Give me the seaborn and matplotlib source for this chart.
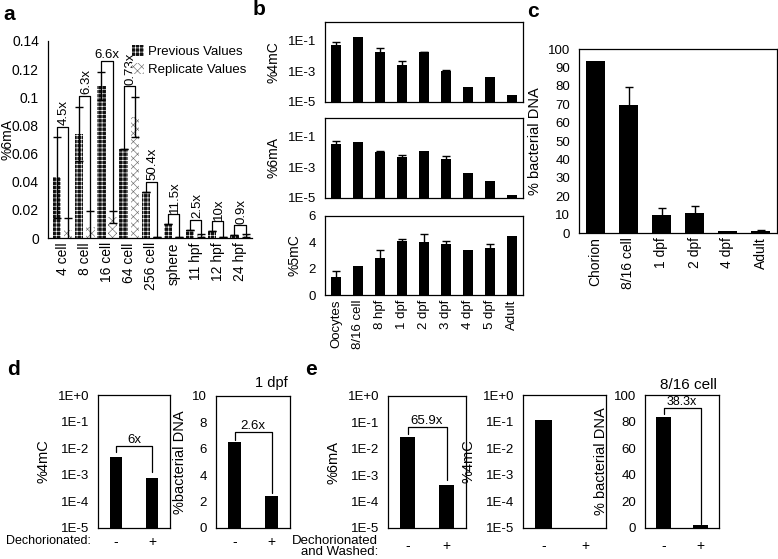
import numpy as np, pandas as pd
import matplotlib; matplotlib.use("Agg")
import matplotlib.pyplot as plt
import seaborn as sns
from matplotlib.ticker import FuncFormatter, LogLocator, MultipleLocator, NullFormatter, FixedLocator
from matplotlib.patches import Patch

# ---- panel a : %6mA previous vs replicate
A_STAGES   = ["4 cell","8 cell","16 cell","64 cell","256 cell","sphere","11 hpf","12 hpf","24 hpf"]
A_PREV     = [0.043,0.074,0.108,0.063,0.033,0.010,0.006,0.005,0.002]
A_PREV_ERR = [0.029,0.019,0.010,0.0,0.0,0.0,0.0,0.0,0.0]
A_REP      = [0.006,0.008,0.015,0.086,0.0005,0.001,0.002,0.0005,0.002]
A_REP_ERR  = [0.008,0.011,0.004,0.014,0.0,0.0,0.001,0.0,0.001]
A_FOLD     = ["4.5x","6.3x","6.6x","0.73x","50.4x","11.5x","2.5x","10x","0.9x"]
A_BRACKET  = [0.079,0.101,0.126,0.108,0.040,0.017,0.013,0.012,0.009]

# ---- panel b : modifications over development
B_STAGES  = ["Oocytes","8/16 cell","8 hpf","1 dpf","2 dpf","3 dpf","4 dpf","5 dpf","Adult"]
B_4MC     = [0.052,0.17,0.018,0.0026,0.017,0.0010,1.0e-4,4.2e-4,3.0e-5]
B_4MC_ERR = [0.022,0.0,0.011,0.0016,0.001,0.00026,0.0,0.0,0.0]
B_6MA     = [0.032,0.040,0.0098,0.0047,0.011,0.0032,4.2e-4,1.2e-4,1.6e-5]
B_6MA_ERR = [0.016,0.0,0.001,0.0016,0.0,0.0022,0.0,0.0,0.0]
B_5MC     = [1.39,2.2,2.78,4.09,4.0,3.84,3.38,3.54,4.49]
B_5MC_ERR = [0.43,0.0,0.62,0.18,0.6,0.23,0.0,0.35,0.0]

# ---- panel c : % bacterial DNA
C_STAGES = ["Chorion","8/16 cell","1 dpf","2 dpf","4 dpf","Adult"]
C_VALS   = [93.3,69.3,10.0,10.6,1.3,1.0]
C_ERR    = [0.0,10.3,3.6,4.1,0.0,0.4]

# ---- panels d / e : dechorionation
COND     = ["-","+"]
D_4MC    = [4.6e-3,7.8e-4]
D_BACT   = [6.5,2.45]
E_6MA    = [0.029,4.3e-4]
E_4MC    = [0.115,0.0]
E_BACT   = [83.7,2.2]

W, H = 778, 559
sns.set_theme(style="white")
plt.rcParams.update({"font.family":["Liberation Sans","DejaVu Sans"],"font.size":9,
                     "axes.linewidth":0.9,"axes.edgecolor":"black","hatch.linewidth":0.45,
                     "xtick.color":"black","ytick.color":"black","text.color":"black",
                     "axes.labelcolor":"black"})
fig = plt.figure(figsize=(W/100,H/100), dpi=100)

def ax_px(l,t,r,b):
    return fig.add_axes([l/W, 1-b/H, (r-l)/W, (b-t)/H])

def logfmt(v,_):
    return f"1E{int(round(np.log10(v))):+d}"

def style(ax, log=False, box=True, ysize=9.5):
    ax.tick_params(axis="x", length=0, labelsize=10, pad=3)
    ax.tick_params(axis="y", which="major", length=3, width=0.8, direction="out", labelsize=ysize)
    ax.tick_params(axis="y", which="minor", length=2, width=0.5, direction="in")
    for s in ["top","right"]: ax.spines[s].set_visible(box)
    ax.set_xlabel("")
    if log:
        ax.set_yscale("log")
        ax.yaxis.set_major_formatter(FuncFormatter(logfmt))
        ax.yaxis.set_minor_locator(LogLocator(subs=np.arange(2,10)))
        ax.yaxis.set_minor_formatter(NullFormatter())

def bars(ax, cats, vals, err=None, width=0.4):
    sns.barplot(x=cats, y=vals, order=cats, color="black", saturation=1, width=width,
                errorbar=None, ax=ax, edgecolor="black", linewidth=0)
    if err is not None:
        xs = np.arange(len(cats))
        e = np.array(err)
        m = e > 0
        ax.errorbar(xs[m], np.array(vals)[m], yerr=e[m], fmt="none", ecolor="black",
                    elinewidth=1, capsize=3, capthick=1)

def bracket(ax, x0, x1, y0, y1, yb, txt, rot=0, fs=9):
    ax.plot([x0,x0,x1,x1],[y0,yb,yb,y1], color="black", lw=0.9, clip_on=False)
    if rot == 0:
        ax.annotate(txt, ((x0+x1)/2, yb), xytext=(0,2), textcoords="offset points",
                    ha="center", va="baseline", fontsize=fs)
    else:
        ax.annotate(txt, ((x0+x1)/2, yb), xytext=(1,1), textcoords="offset points",
                    ha="center", va="bottom", rotation=90, fontsize=fs)

# ================= panel a
ax = ax_px(48,41,252,238)
dfa = pd.DataFrame({"stage":A_STAGES*2, "value":A_PREV+A_REP,
                    "series":["Previous Values"]*9+["Replicate Values"]*9})
sns.barplot(data=dfa, x="stage", y="value", hue="series", order=A_STAGES,
            palette=["#101010","white"], saturation=1, width=1.0, gap=0.25,
            errorbar=None, legend=False, ax=ax)
prev_c, rep_c = ax.containers[0], ax.containers[1]
for p in prev_c:
    p.set_facecolor("#101010"); p.set_edgecolor("white"); p.set_hatch("++++"); p.set_linewidth(0)
for p in rep_c:
    p.set_facecolor("white"); p.set_edgecolor("#6e6e6e"); p.set_hatch("xxxx"); p.set_linewidth(0)
xp = np.array([p.get_x()+p.get_width()/2 for p in prev_c])
xr = np.array([p.get_x()+p.get_width()/2 for p in rep_c])
ax.errorbar(xp, A_PREV, yerr=A_PREV_ERR, fmt="none", ecolor="black", elinewidth=1, capsize=3)
ax.errorbar(xr, A_REP, yerr=A_REP_ERR, fmt="none", ecolor="black", elinewidth=1, capsize=3)
for i in range(len(A_STAGES)):
    y0 = A_PREV[i]+A_PREV_ERR[i]
    y1 = A_REP[i]+A_REP_ERR[i]
    rot = 0 if A_FOLD[i] == "6.6x" else 90
    bracket(ax, xp[i], xr[i], y0, y1, A_BRACKET[i], A_FOLD[i], rot=rot, fs=9.5)
style(ax, box=False, ysize=10)
ax.set_xlim(-0.66, 8.54); ax.set_ylim(0, 0.14)
ax.yaxis.set_major_locator(MultipleLocator(0.02))
ax.yaxis.set_major_formatter(FuncFormatter(lambda v,_: f"{v:g}"))
ax.set_xticks(range(9)); ax.set_xticklabels(A_STAGES, rotation=90, fontsize=10)
ax.set_ylabel("%6mA", fontsize=10)
ax.yaxis.set_label_coords((14-48)/204, 0.5)
ax.legend(handles=[Patch(facecolor="#101010", edgecolor="white", hatch="++++", lw=0, label="Previous Values"),
                   Patch(facecolor="white", edgecolor="#6e6e6e", hatch="xxxx", lw=0, label="Replicate Values")],
          loc="upper right", bbox_to_anchor=(1.03,1.04), frameon=False, fontsize=9.5,
          handlelength=0.9, handleheight=0.9, handletextpad=0.3, labelspacing=0.35)

# ================= panel b
for (t,b), vals, err, lab, log in [((22,102),B_4MC,B_4MC_ERR,"%4mC",True),
                                    ((118,198),B_6MA,B_6MA_ERR,"%6mA",True),
                                    ((216,295),B_5MC,B_5MC_ERR,"%5mC",False)]:
    ax = ax_px(325,t,523,b)
    bars(ax, B_STAGES, vals, err, width=0.42)
    style(ax, log=log)
    ax.set_xlim(-0.5, 8.5)
    if log:
        ax.set_ylim(1e-5, 1.5)
        ax.yaxis.set_major_locator(FixedLocator([1e-5,1e-3,1e-1]))
        ax.set_xticks(range(9)); ax.set_xticklabels([])
    else:
        ax.set_ylim(0, 6)
        ax.yaxis.set_major_locator(MultipleLocator(2))
        ax.set_xticks(range(9)); ax.set_xticklabels(B_STAGES, rotation=90, fontsize=9.5)
    ax.set_ylabel(lab, fontsize=10, labelpad=5)

# ================= panel c
ax = ax_px(579,49,777,233)
bars(ax, C_STAGES, C_VALS, C_ERR, width=0.55)
style(ax)
ax.set_xlim(-0.5, 5.5); ax.set_ylim(0, 100)
ax.yaxis.set_major_locator(MultipleLocator(10))
ax.set_xticks(range(6)); ax.set_xticklabels(C_STAGES, rotation=90, fontsize=10)
ax.set_ylabel("% bacterial DNA", fontsize=10.5, labelpad=4)

# ================= panel d
ax = ax_px(98,395,170,528)
bars(ax, COND, D_4MC, width=0.35)
style(ax, log=True)
ax.set_ylim(1e-5, 1)
ax.yaxis.set_major_locator(LogLocator(numticks=10))
ax.set_xlim(-0.5, 1.5)
bracket(ax, 0, 1, D_4MC[0]*1.6, D_4MC[1]*1.6, 1.2e-2, "6x", fs=9.5)
ax.set_ylabel("%4mC", fontsize=10.5, labelpad=5)
ax.tick_params(axis="x", pad=5)

ax = ax_px(216,396,290,528)
bars(ax, COND, D_BACT, width=0.35)
style(ax)
ax.set_ylim(0, 10); ax.set_xlim(-0.5, 1.5)
ax.yaxis.set_major_locator(MultipleLocator(2))
bracket(ax, 0, 1, D_BACT[0]+0.2, D_BACT[1]+0.2, 7.3, "2.6x", fs=9.5)
ax.set_ylabel("%bacterial DNA", fontsize=10.5, labelpad=4)
ax.tick_params(axis="x", pad=5)
fig.text(288/W, 1-387/H, "1 dpf", ha="right", va="baseline", fontsize=10.5)
fig.text(91/W, 1-544/H, "Dechorionated:", ha="right", va="baseline", fontsize=9)

# ================= panel e
ax = ax_px(388,396,466,528)
bars(ax, COND, E_6MA, width=0.4)
style(ax, log=True)
ax.set_ylim(1e-5, 1); ax.set_xlim(-0.5, 1.5)
ax.yaxis.set_major_locator(LogLocator(numticks=10))
bracket(ax, 0, 1, E_6MA[0]*1.3, E_6MA[1]*1.5, 6.9e-2, "65.9x", fs=9.5)
ax.set_ylabel("%6mA", fontsize=10.5, labelpad=5)
ax.tick_params(axis="x", pad=8)

ax = ax_px(523,395,606,528)
bars(ax, COND, E_4MC, width=0.4)
style(ax, log=True)
ax.set_ylim(1e-5, 1); ax.set_xlim(-0.5, 1.5)
ax.yaxis.set_major_locator(LogLocator(numticks=10))
ax.set_ylabel("%4mC", fontsize=10.5, labelpad=5)
ax.tick_params(axis="x", pad=8)

ax = ax_px(645,395,719,528)
bars(ax, COND, E_BACT, width=0.4)
style(ax)
ax.set_ylim(0, 100); ax.set_xlim(-0.5, 1.5)
ax.yaxis.set_major_locator(MultipleLocator(20))
bracket(ax, 0, 1, E_BACT[0]+2, E_BACT[1]+1, 90.5, "38.3x", fs=9)
ax.set_ylabel("% bacterial DNA", fontsize=10.5, labelpad=4)
ax.tick_params(axis="x", pad=8)
fig.text(717/W, 1-389/H, "8/16 cell", ha="right", va="baseline", fontsize=11)
fig.text(378/W, 1-544/H, "Dechorionated", ha="right", va="baseline", fontsize=9.5)
fig.text(378/W, 1-555/H, "and Washed:", ha="right", va="baseline", fontsize=9.5)

# panel letters
for x, y, s in [(3,20,"a"),(253,15,"b"),(527,17,"c"),(7,375,"d"),(305,375,"e")]:
    fig.text(x/W, 1-y/H, s, fontsize=15, fontweight="bold", va="baseline", ha="left")

fig.savefig("out.png", dpi=100)
